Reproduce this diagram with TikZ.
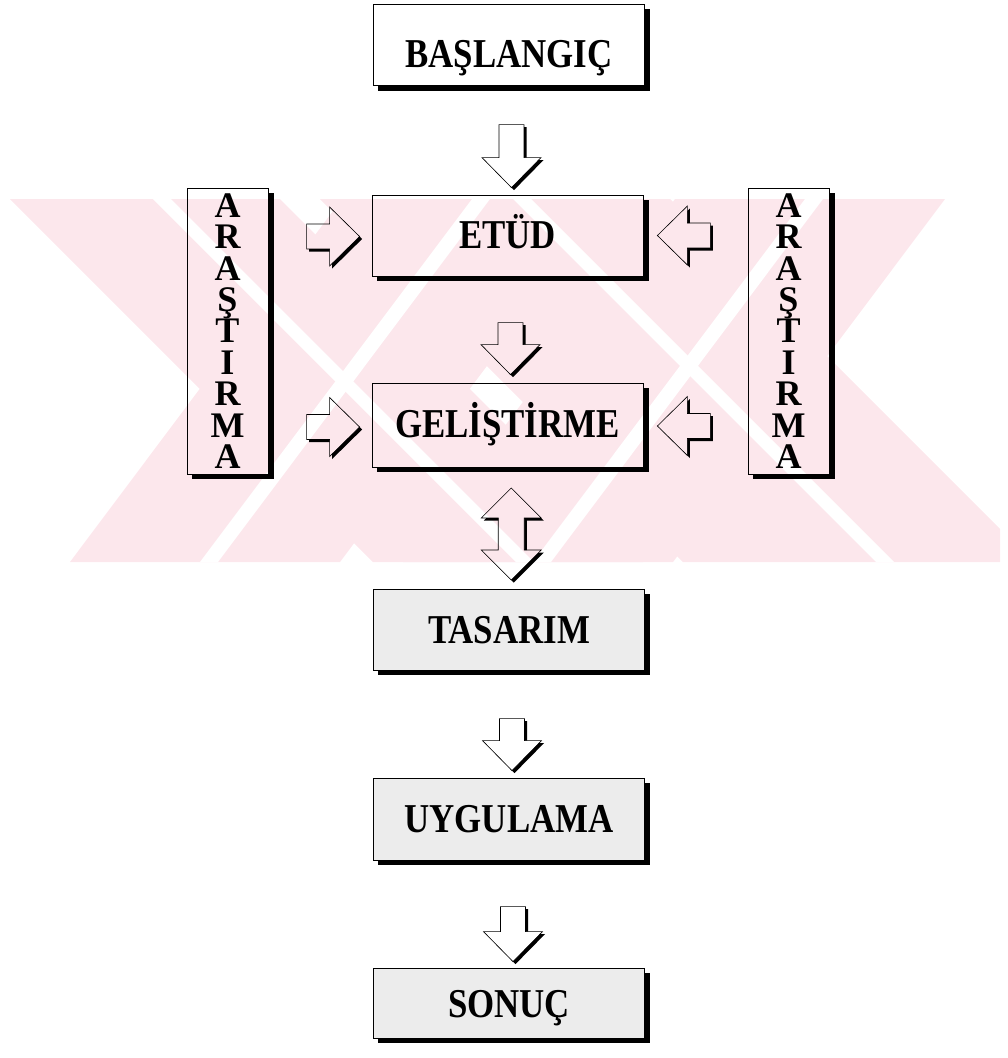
\documentclass[tikz,border=0pt]{standalone}
\usepackage{fontspec}
\setmainfont{Liberation Serif}
\newfontfamily\boxfont{Liberation Serif}[FakeStretch=0.85]
\newfontfamily\vertfont{Liberation Serif}
\usetikzlibrary{calc}
\definecolor{wmpink}{RGB}{252,231,236}
\definecolor{boxgray}{RGB}{236,236,236}
\tikzset{
  stepbox/.style={draw,line width=0.8pt,inner sep=0pt,
    minimum width=271,minimum height=81,text height=26pt,text depth=0pt,
    font=\boxfont\bfseries\fontsize{41}{41}\selectfont},
  graybox/.style={stepbox,fill=boxgray},
  sidebox/.style={draw,line width=0.8pt,inner sep=0pt,
    minimum width=81,minimum height=286,align=center,
    font=\vertfont\bfseries\fontsize{36}{31.4}\selectfont},
  arrowline/.style={draw,line width=0.6pt,line join=miter}
}
\newcommand{\arrowpath}[1]{(0,0) -- (-30,29.5) -- (-30,12.5) -- (-30-#1,12.5)
  -- (-30-#1,-12.5) -- (-30,-12.5) -- (-30,-29.5) -- cycle}
\newcommand{\fatarrow}[3]{%
  \begin{scope}[shift={#1}]
    \begin{scope}[even odd rule]
      \clip[rotate=#2] (-150,-150) rectangle (150,150) \arrowpath{#3};
      \fill[black,shift={(2.5,2.5)},rotate=#2] \arrowpath{#3};
    \end{scope}
    \path[arrowline,rotate=#2] \arrowpath{#3};
  \end{scope}}
\newcommand{\dblpath}{(0,-46) -- (30,-16) -- (13,-16) -- (13,16) -- (30,16) -- (0,46)
  -- (-30,16) -- (-13,16) -- (-13,-16) -- (-30,-16) -- cycle}
\newcommand{\dblarrow}[1]{%
  \begin{scope}[shift={#1}]
    \begin{scope}[even odd rule]
      \clip (-150,-150) rectangle (150,150) \dblpath;
      \fill[black,shift={(2.5,2.5)}] \dblpath;
    \end{scope}
    \path[arrowline] \dblpath;
  \end{scope}}
\begin{document}
\begin{tikzpicture}[x=1pt,y=-1pt]
    \useasboundingbox (0,0) rectangle (1008,1058);
    \begin{scope}
      \clip (10,199) rectangle (1000,562);
      \fill[wmpink] (10,199) -- (280,199) -- (643,562) -- (373,562) -- cycle;
      \fill[wmpink] (70,562) -- (340,562) -- (612,199) -- (342,199) -- cycle;
      \fill[wmpink] (675,199) -- (945,199) -- (673,562) -- (403,562) -- cycle;
      \fill[wmpink] (320,199) -- (670,199) -- (1033,562) -- (683,562) -- cycle;
      \fill[white] (153,199) -- (171,199) -- (534,562) -- (516,562) -- cycle;
      \fill[white] (200,562) -- (218,562) -- (490,199) -- (472,199) -- cycle;
      \fill[white] (805,199) -- (823,199) -- (551,562) -- (533,562) -- cycle;
      \fill[white] (513,199) -- (531,199) -- (894,562) -- (876,562) -- cycle;
    \end{scope}
    \node[stepbox,text height=44pt] (start) at (509,45) {BAŞLANGIÇ};
    \node[stepbox] (etud) at (507.5,235.5) {ETÜD};
    \node[stepbox,minimum height=84,text height=24pt] (gelistirme) at (507.5,425) {GELİŞTİRME};
    \node[graybox,text height=28pt] (tasarim) at (509,629.5) {TASARIM};
    \node[graybox,minimum height=82] (uygulama) at (509,819) {UYGULAMA};
    \node[graybox,minimum height=70,text height=29pt] (sonuc) at (509,1003) {SONUÇ};
    \node[sidebox] (arsol) at (227.5,331) {A\\R\\A\\Ş\\T\\I\\R\\M\\A};
    \node[sidebox] (arsag) at (788.5,331) {A\\R\\A\\Ş\\T\\I\\R\\M\\A};
    \foreach \n in {start,etud,gelistirme,tasarim,uygulama,sonuc,arsol,arsag}{
      \fill ($(\n.north east)+(0.4,5)$) rectangle ($(\n.south east)+(5.5,5)$);
      \fill ($(\n.south west)+(5,0.4)$) rectangle ($(\n.south east)+(5.5,5)$);
    }
    \fatarrow{($(etud.north)+(4,-7)$)}{-90}{33}
    \fatarrow{($(gelistirme.north)+(3,-8)$)}{-90}{22}
    \fatarrow{($(uygulama.north)+(3,-7)$)}{-90}{22}
    \fatarrow{($(sonuc.north)+(4,-6)$)}{-90}{25}
    \fatarrow{($(etud.west)+(-12,1)$)}{0}{23}
    \fatarrow{($(gelistirme.west)+(-12,2)$)}{0}{23}
    \fatarrow{($(etud.east)+(14,0)$)}{180}{23}
    \fatarrow{($(gelistirme.east)+(14,1)$)}{180}{23}
    \dblarrow{($(gelistirme.south)!0.5!(tasarim.north)+(3,6)$)}
\end{tikzpicture}
\end{document}
